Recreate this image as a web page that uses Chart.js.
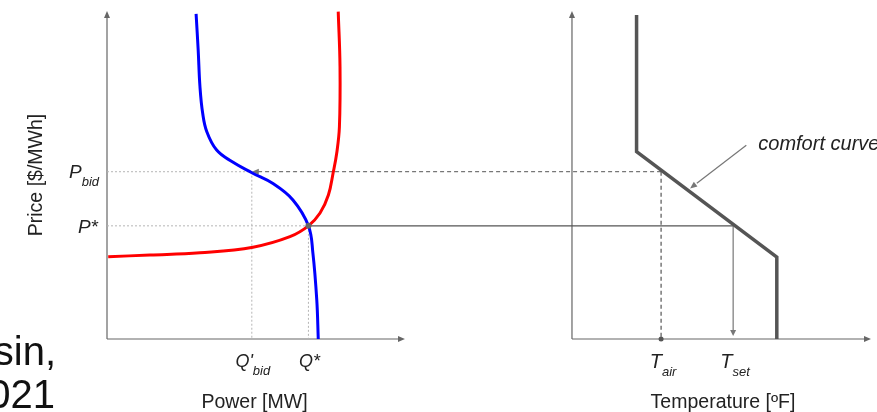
<!DOCTYPE html>
<html>
<head>
<meta charset="utf-8">
<title>Bid curve and comfort curve</title>
<script src="https://cdn.jsdelivr.net/npm/chart.js@4.4.1/dist/chart.umd.min.js"></script>
<style>
  body { margin: 0; background: #fff; }
  #wrap { width: 877px; height: 412px; }
</style>
</head>
<body>
<div id="wrap"><canvas id="chart" width="877" height="412"></canvas></div>
<script>
// left panel: price [$/MWh] vs power [MW] (schematic units 0-100)
const demandPower = [29.9, 30.6, 31.2, 32.1, 33.5, 36.8, 41.9, 48.6, 55.7, 62.4, 67.6, 69.1, 70.4, 70.9];
const demandPrice = [99.1, 88.1, 76.9, 68.9, 63.2, 57.6, 54.1, 50.7, 47.4, 42.4, 34.5, 26.2, 11.9, 0];
const supplyPower = [77.6, 78.2, 78.0, 77.1, 75.9, 74.3, 71.5, 67.6, 61.4, 49.0, 31.2, 14.4, 0.4];
const supplyPrice = [99.8, 83.0, 64.7, 56.7, 50.7, 43.9, 38.4, 34.5, 31.2, 28.0, 26.3, 25.6, 25.1];

// right panel: price vs temperature [ºF]
const comfortTemp = [21.6, 21.6, 68.5, 68.5];
const comfortPrice = [98.8, 57.1, 25.0, 0];

// tick marks (value + label + subscript)
const priceTicks = [51.0, 34.5];
const priceLabels = [["P", "bid"], ["P*", ""]];
const powerTicks = [48.6, 67.6];
const powerLabels = [["Q'", "bid"], ["Q*", ""]];
const tempTicks = [29.8, 53.9];
const tempLabels = [["T", "air"], ["T", "set"]];

const FONT = '"Liberation Sans", Arial, sans-serif';

function pts(xs, ys) {
  return xs.map((x, i) => ({ x: x, y: ys[i] }));
}

function line(ctx, x1, y1, x2, y2, color, width, dash) {
  ctx.save();
  ctx.strokeStyle = color;
  ctx.lineWidth = width;
  ctx.setLineDash(dash || []);
  ctx.beginPath();
  ctx.moveTo(x1, y1);
  ctx.lineTo(x2, y2);
  ctx.stroke();
  ctx.restore();
}

function arrowHead(ctx, x, y, angle, len, half, color) {
  ctx.save();
  ctx.translate(x, y);
  ctx.rotate(angle);
  ctx.fillStyle = color;
  ctx.beginPath();
  ctx.moveTo(0, 0);
  ctx.lineTo(-len, -half);
  ctx.lineTo(-len, half);
  ctx.closePath();
  ctx.fill();
  ctx.restore();
}

function subLabel(ctx, main, sub, x, y, size, align) {
  ctx.save();
  ctx.fillStyle = '#222';
  ctx.textBaseline = 'alphabetic';
  ctx.textAlign = 'left';
  ctx.font = 'italic ' + size + 'px ' + FONT;
  const w1 = ctx.measureText(main).width;
  ctx.font = 'italic 13px ' + FONT;
  const w2 = sub ? ctx.measureText(sub).width : 0;
  let x0 = x;
  if (align === 'center') x0 = x - (w1 + w2) / 2;
  if (align === 'right') x0 = x - (w1 + w2);
  ctx.font = 'italic ' + size + 'px ' + FONT;
  ctx.fillText(main, x0, y);
  if (sub) {
    ctx.font = 'italic 13px ' + FONT;
    ctx.fillText(sub, x0 + w1, y + 8);
  }
  ctx.restore();
}

const sketch = {
  id: 'sketch',
  beforeDatasetsDraw(chart) {
    const ctx = chart.ctx;
    const xp = chart.scales.xPower, xt = chart.scales.xTemp, y = chart.scales.y;
    const axis = '#666';

    // axes with arrows
    line(ctx, xp.getPixelForValue(0), y.getPixelForValue(0), xp.getPixelForValue(0), y.getPixelForValue(100) + 5, axis, 1.2);
    arrowHead(ctx, xp.getPixelForValue(0), y.getPixelForValue(100), -Math.PI / 2, 7, 3, axis);
    line(ctx, xp.getPixelForValue(0), y.getPixelForValue(0), xp.getPixelForValue(100) - 5, y.getPixelForValue(0), axis, 1.2);
    arrowHead(ctx, xp.getPixelForValue(100), y.getPixelForValue(0), 0, 7, 3, axis);
    line(ctx, xt.getPixelForValue(0), y.getPixelForValue(0), xt.getPixelForValue(0), y.getPixelForValue(100) + 5, axis, 1.2);
    arrowHead(ctx, xt.getPixelForValue(0), y.getPixelForValue(100), -Math.PI / 2, 7, 3, axis);
    line(ctx, xt.getPixelForValue(0), y.getPixelForValue(0), xt.getPixelForValue(100) - 5, y.getPixelForValue(0), axis, 1.2);
    arrowHead(ctx, xt.getPixelForValue(100), y.getPixelForValue(0), 0, 7, 3, axis);

    const pBid = y.getPixelForValue(priceTicks[0]);
    const pStar = y.getPixelForValue(priceTicks[1]);
    const qBid = xp.getPixelForValue(powerTicks[0]);
    const qStar = xp.getPixelForValue(powerTicks[1]);
    const tAir = xt.getPixelForValue(tempTicks[0]);
    const tSet = xt.getPixelForValue(tempTicks[1]);
    const y0 = y.getPixelForValue(0);
    const dots = [2, 2];
    const light = '#b5b5b5';

    // dotted guides in the left panel
    line(ctx, xp.getPixelForValue(0), pBid, qBid, pBid, light, 1, dots);
    line(ctx, xp.getPixelForValue(0), pStar, qStar, pStar, light, 1, dots);
    line(ctx, qBid, pBid, qBid, y0, light, 1, dots);
    line(ctx, qStar, pStar, qStar, y0, light, 1, dots);

    // bid price: dashed from comfort curve back to the demand curve
    line(ctx, tAir, pBid, qBid + 5, pBid, '#777', 1.2, [4, 3]);
    arrowHead(ctx, qBid, pBid, Math.PI, 7, 3, '#777');
    line(ctx, tAir, pBid, tAir, y0, '#555', 1.2, [4, 3]);

    // clearing price: solid to the setpoint, then down
    line(ctx, qStar, pStar, tSet, pStar, '#555', 1.2);
    line(ctx, tSet, pStar, tSet, y0 - 8, '#777', 1.2);
    arrowHead(ctx, tSet, y0 - 3, Math.PI / 2, 6, 3, '#777');
  },
  afterDatasetsDraw(chart) {
    const ctx = chart.ctx;
    const xp = chart.scales.xPower, xt = chart.scales.xTemp, y = chart.scales.y;
    const y0 = y.getPixelForValue(0);

    // dots at the market clearing point and T_air
    ctx.save();
    ctx.fillStyle = '#666';
    ctx.beginPath();
    ctx.arc(xp.getPixelForValue(powerTicks[1]), y.getPixelForValue(priceTicks[1]), 3, 0, Math.PI * 2);
    ctx.fill();
    ctx.fillStyle = '#555';
    ctx.beginPath();
    ctx.arc(xt.getPixelForValue(tempTicks[0]), y0, 2.5, 0, Math.PI * 2);
    ctx.fill();
    ctx.restore();

    // tick labels
    const x0 = xp.getPixelForValue(0);
    subLabel(ctx, priceLabels[0][0], priceLabels[0][1], x0 - 8, y.getPixelForValue(priceTicks[0]) + 6, 19, 'right');
    subLabel(ctx, priceLabels[1][0], priceLabels[1][1], x0 - 9, y.getPixelForValue(priceTicks[1]) + 7, 19, 'right');
    powerTicks.forEach((v, i) => {
      subLabel(ctx, powerLabels[i][0], powerLabels[i][1], xp.getPixelForValue(v) + 1, y0 + 28, 18, 'center');
    });
    tempTicks.forEach((v, i) => {
      subLabel(ctx, tempLabels[i][0], tempLabels[i][1], xt.getPixelForValue(v) + 2, y0 + 29, 20, 'center');
    });

    // axis titles
    ctx.save();
    ctx.fillStyle = '#222';
    ctx.font = '19.5px ' + FONT;
    ctx.textAlign = 'center';
    ctx.textBaseline = 'alphabetic';
    ctx.fillText('Power [MW]', xp.getPixelForValue(49.5), y0 + 69);
    ctx.fillText('Temperature [ºF]', xt.getPixelForValue(50.5), y0 + 69);
    ctx.translate(37, y.getPixelForValue(50));
    ctx.rotate(-Math.PI / 2);
    ctx.textBaseline = 'middle';
    ctx.fillText('Price [$/MWh]', 0, 0);
    ctx.restore();

    // comfort curve note with pointer
    const ax = xt.getPixelForValue(58.3), ay = y.getPixelForValue(59.1);
    const bx = xt.getPixelForValue(39.5), by = y.getPixelForValue(45.9);
    line(ctx, ax, ay, bx + (ax - bx) * 0.12, by + (ay - by) * 0.12, '#777', 1.2);
    arrowHead(ctx, bx, by, Math.atan2(by - ay, bx - ax), 7, 3, '#777');
    ctx.save();
    ctx.fillStyle = '#222';
    ctx.font = 'italic 20px ' + FONT;
    ctx.textAlign = 'left';
    ctx.fillText('comfort curve', xt.getPixelForValue(62.3), y.getPixelForValue(57.6));
    ctx.restore();

    // leftover slide text cut at the left edge
    ctx.save();
    ctx.fillStyle = '#111';
    ctx.font = '40px ' + FONT;
    ctx.textAlign = 'right';
    ctx.fillText('sin,', 56, 365);
    ctx.fillText('021', 55, 408);
    ctx.restore();
  }
};

new Chart(document.getElementById('chart'), {
  type: 'scatter',
  data: {
    datasets: [
      {
        label: 'demand bid',
        data: pts(demandPower, demandPrice),
        xAxisID: 'xPower', yAxisID: 'y',
        showLine: true, borderColor: '#0000ff', borderWidth: 3,
        pointRadius: 0, tension: 0.4, clip: false
      },
      {
        label: 'supply',
        data: pts(supplyPower, supplyPrice),
        xAxisID: 'xPower', yAxisID: 'y',
        showLine: true, borderColor: '#ff0000', borderWidth: 3,
        pointRadius: 0, tension: 0.4, clip: false
      },
      {
        label: 'comfort curve',
        data: pts(comfortTemp, comfortPrice),
        xAxisID: 'xTemp', yAxisID: 'y',
        showLine: true, borderColor: '#555', borderWidth: 3.5,
        pointRadius: 0, tension: 0, clip: false
      }
    ]
  },
  options: {
    responsive: false,
    animation: false,
    layout: { padding: { left: 107, right: 6, top: 11, bottom: 73 } },
    plugins: { legend: { display: false }, tooltip: { enabled: false } },
    scales: {
      xPower: { type: 'linear', axis: 'x', min: 0, max: 256.4, display: false },
      xTemp: { type: 'linear', axis: 'x', min: -155.5, max: 100, display: false },
      y: { type: 'linear', min: 0, max: 100, display: false }
    }
  },
  plugins: [sketch]
});
</script>
</body>
</html>
